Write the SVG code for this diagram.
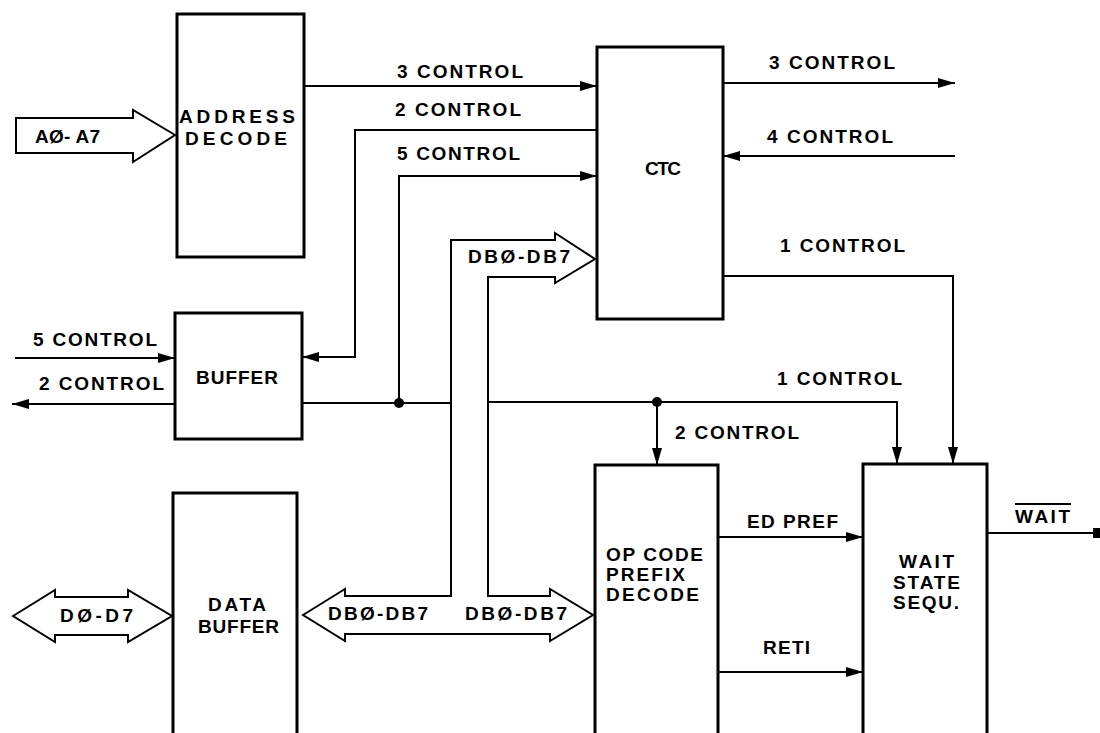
<svg xmlns="http://www.w3.org/2000/svg" width="1100" height="733" viewBox="0 0 1100 733">
<style>
  .box{fill:#fff;stroke:#000;stroke-width:3}
  .ln{fill:none;stroke:#000;stroke-width:2}
  .bus{fill:#fff;stroke:#000;stroke-width:2;stroke-linejoin:miter}
  text{font-family:"Liberation Sans",Arial,sans-serif;font-weight:bold;font-size:19px;fill:#000}
  .dot{fill:#000}
</style>
<defs>
  <marker id="ah" markerUnits="userSpaceOnUse" markerWidth="18" markerHeight="10" refX="17" refY="5" orient="auto">
    <path d="M0,0 L17,5 L0,10 z" fill="#000"/>
  </marker>
</defs>
<rect width="1100" height="733" fill="#fff"/>

<g id="connectors">
  <!-- A0-A7 bus -->
  <polygon class="bus" points="16,118 133,118 133,110 175,135 133,162 133,153 16,153"/>
  <!-- D0-D7 bus -->
  <polygon class="bus" points="13,616 55,590 55,597 128,597 128,590 172,616 128,642 128,635 55,635 55,642"/>
  <!-- DB0-DB7 bus -->
  <polygon class="bus" points="303,615 345,589 345,596 451,596 451,240 555,240 555,233 595,259 555,283 555,277 488,277 488,596 550,596 550,589 593,615 550,641 550,634 345,634 345,641"/>

  <polyline class="ln" points="304,86 597,86" marker-end="url(#ah)"/>
  <polyline class="ln" points="597,130 355,130 355,357 302,357" marker-end="url(#ah)"/>
  <polyline class="ln" points="399,403 399,176 597,176" marker-end="url(#ah)"/>
  <polyline class="ln" points="302,403 451,403"/>
  <polyline class="ln" points="488,402 897,402 897,464" marker-end="url(#ah)"/>
  <polyline class="ln" points="657,402 657,465" marker-end="url(#ah)"/>
  <polyline class="ln" points="723,276 953,276 953,464" marker-end="url(#ah)"/>
  <polyline class="ln" points="723,83 955,83" marker-end="url(#ah)"/>
  <polyline class="ln" points="955,156 723,156" marker-end="url(#ah)"/>
  <polyline class="ln" points="15,358 175,358" marker-end="url(#ah)"/>
  <polyline class="ln" points="175,404 12,404" marker-end="url(#ah)"/>
  <polyline class="ln" points="718,537 863,537" marker-end="url(#ah)"/>
  <polyline class="ln" points="718,672 863,672" marker-end="url(#ah)"/>
  <polyline class="ln" points="987,533 1095,533"/>
  <rect class="dot" x="1093" y="528" width="7" height="10"/>
  <circle class="dot" cx="399" cy="403" r="5"/>
  <circle class="dot" cx="657" cy="402" r="5"/>

  <text x="35" y="143" textLength="65">AØ- A7</text>
  <text x="60" y="622" textLength="73">DØ-D7</text>
  <text x="328" y="620" textLength="100">DBØ-DB7</text>
  <text x="465" y="620" textLength="102">DBØ-DB7</text>
  <text x="468" y="263" textLength="102">DBØ-DB7</text>
  <text x="397" y="78" textLength="126">3 CONTROL</text>
  <text x="395" y="116" textLength="126">2 CONTROL</text>
  <text x="397" y="160" textLength="123">5 CONTROL</text>
  <text x="769" y="69" textLength="126">3 CONTROL</text>
  <text x="767" y="143" textLength="126">4 CONTROL</text>
  <text x="780" y="252" textLength="125">1 CONTROL</text>
  <text x="33" y="346" textLength="124">5 CONTROL</text>
  <text x="39" y="390" textLength="125">2 CONTROL</text>
  <text x="777" y="385" textLength="125">1 CONTROL</text>
  <text x="675" y="439" textLength="124">2 CONTROL</text>
  <text x="747" y="528" textLength="91">ED PREF</text>
  <text x="763" y="654" textLength="47">RETI</text>
  <text x="1015" y="523" textLength="55">WAIT</text>
  <line class="ln" x1="1015" y1="504" x2="1071" y2="504"/>
</g>

<g id="address-decode">
  <rect class="box" x="177" y="14" width="127" height="243"/>
  <text x="179" y="123" textLength="116">ADDRESS</text>
  <text x="185" y="145" textLength="102">DECODE</text>
</g>

<g id="ctc">
  <rect class="box" x="597" y="47" width="126" height="272"/>
  <text x="645" y="175" textLength="36">CTC</text>
</g>

<g id="buffer">
  <rect class="box" x="175" y="313" width="127" height="126"/>
  <text x="196" y="384" textLength="82">BUFFER</text>
</g>

<g id="data-buffer">
  <rect class="box" x="173" y="493" width="124" height="270"/>
  <text x="208" y="611" textLength="58">DATA</text>
  <text x="198" y="633" textLength="81">BUFFER</text>
</g>

<g id="opcode-prefix-decode">
  <rect class="box" x="595" y="465" width="123" height="300"/>
  <text x="606" y="561" textLength="97">OP CODE</text>
  <text x="606" y="581" textLength="79">PREFIX</text>
  <text x="606" y="601" textLength="93">DECODE</text>
</g>

<g id="wait-state-sequ">
  <rect class="box" x="863" y="464" width="124" height="300"/>
  <text x="899" y="568" textLength="55">WAIT</text>
  <text x="893" y="589" textLength="67">STATE</text>
  <text x="893" y="609" textLength="66">SEQU.</text>
</g>
</svg>
